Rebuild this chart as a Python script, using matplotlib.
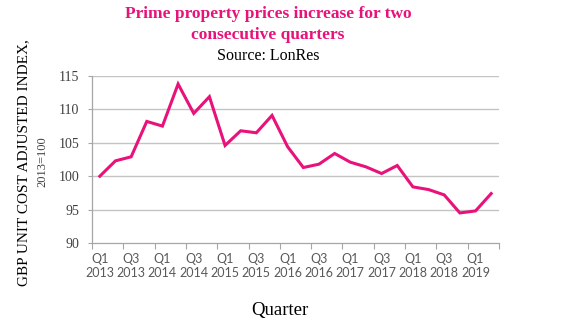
import matplotlib
matplotlib.use("Agg")
import matplotlib.pyplot as plt
from matplotlib.ticker import FixedLocator

quarters = ["Q1\n2013", "Q2\n2013", "Q3\n2013", "Q4\n2013",
            "Q1\n2014", "Q2\n2014", "Q3\n2014", "Q4\n2014",
            "Q1\n2015", "Q2\n2015", "Q3\n2015", "Q4\n2015",
            "Q1\n2016", "Q2\n2016", "Q3\n2016", "Q4\n2016",
            "Q1\n2017", "Q2\n2017", "Q3\n2017", "Q4\n2017",
            "Q1\n2018", "Q2\n2018", "Q3\n2018", "Q4\n2018",
            "Q1\n2019", "Q2\n2019"]
index_values = [100.0, 102.3, 102.9, 108.2,
                107.5, 113.8, 109.4, 111.9,
                104.6, 106.8, 106.5, 109.1,
                104.4, 101.3, 101.8, 103.4,
                102.1, 101.4, 100.4, 101.6,
                98.4, 98.0, 97.2, 94.5,
                94.8, 97.4]
y_ticks = [90, 95, 100, 105, 110, 115]

PINK = "#E8127A"
GRID = "#c4c4c4"
TXT = "#595959"

W, H = 580, 326
fig = plt.figure(figsize=(W / 100, H / 100), dpi=100)
ax = fig.add_axes([92 / W, 1 - 243 / H, (499 - 92) / W, (243 - 76) / H])

x = list(range(len(quarters)))
ax.plot(x, index_values, color=PINK, lw=2.2, solid_joinstyle="miter", zorder=3)

ax.set_xlim(-0.5, len(quarters) - 0.5)
ax.set_ylim(90, 115)
ax.set_yticks(y_ticks)
ax.set_yticklabels([str(v) for v in y_ticks], family="Liberation Serif",
                   fontsize=10, color="#404040")
ax.set_xticks(x[::2])
ax.set_xticklabels(quarters[::2], family="Lato", fontsize=9, color=TXT,
                   linespacing=1.2)
ax.xaxis.set_minor_locator(FixedLocator([i - 0.5 for i in range(0, len(quarters) + 1, 2)]))
ax.tick_params(axis="x", which="major", length=0, pad=7)
ax.tick_params(axis="x", which="minor", length=4, color="#a6a6a6", width=0.8)
ax.tick_params(axis="y", which="major", length=3, color="#a6a6a6", width=0.8, pad=6)

for v in y_ticks[1:]:
    ax.axhline(v, color=GRID, lw=1.0, zorder=1)
for s in ["top", "right"]:
    ax.spines[s].set_visible(False)
for s in ["left", "bottom"]:
    ax.spines[s].set_color("#a6a6a6")
    ax.spines[s].set_linewidth(0.9)

fig.text(268 / W, 1 - 14 / H, "Prime property prices increase for two",
         ha="center", va="center", family="Liberation Serif", fontweight="bold",
         fontsize=12.5, color=PINK)
fig.text(268 / W, 1 - 35 / H, "consecutive quarters",
         ha="center", va="center", family="Liberation Serif", fontweight="bold",
         fontsize=12.5, color=PINK)
fig.text(268 / W, 1 - 56 / H, "Source: LonRes",
         ha="center", va="center", family="Liberation Serif",
         fontsize=11.5, color="black")

fig.text(24 / W, 1 - 163 / H, "GBP UNIT COST ADJUSTED INDEX,",
         ha="center", va="center", rotation=90, family="Liberation Serif",
         fontsize=11, color="black")
fig.text(42 / W, 1 - 162 / H, "2013=100",
         ha="center", va="center", rotation=90, family="Liberation Serif",
         fontsize=9, color="#404040")

fig.text(280 / W, 1 - 311 / H, "Quarter", ha="center", va="center",
         family="Liberation Serif", fontsize=13.5, color="black")

fig.savefig("out.png", dpi=100)
